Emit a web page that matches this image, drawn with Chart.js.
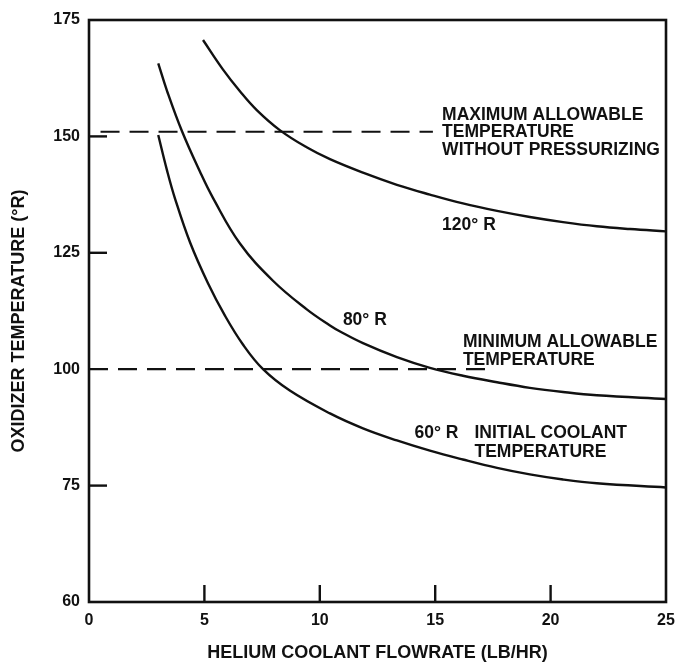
<!DOCTYPE html>
<html>
<head>
<meta charset="utf-8">
<script src="https://cdn.jsdelivr.net/npm/chart.js@4/dist/chart.umd.min.js"></script>
<style>
  html, body { margin: 0; padding: 0; background: #fff; }
  #wrap { width: 678px; height: 665px; }
</style>
</head>
<body>
<div id="wrap"><canvas id="c" width="678" height="665"></canvas></div>
<script>
// Helium coolant flowrate (lb/hr) vs oxidizer temperature (°R), per initial coolant temperature
const flow120 = [4.94, 5.8, 6.54, 7.28, 8.28, 9.45, 10.44, 11.87, 13.34, 14.77, 16.2, 17.68, 19.1, 20.54, 22, 23.44, 25];
const temp120 = [170.7, 164.4, 159.7, 155.6, 151.3, 147.6, 145.1, 142.2, 139.6, 137.5, 135.6, 134.0, 132.7, 131.6, 130.7, 130.1, 129.6];

const flow80 = [3, 3.38, 4.03, 4.81, 5.37, 6.54, 7.97, 9.45, 10.44, 10.88, 11.87, 13.34, 14.77, 16.2, 17.68, 19.1, 20.54, 22, 25];
const temp80 = [165.7, 159.8, 151.1, 142.4, 136.8, 127.0, 119.0, 112.8, 109.4, 108.1, 105.6, 102.6, 100.3, 98.6, 97.2, 96.0, 95.1, 94.4, 93.6];

const flow60 = [3, 3.38, 3.73, 4.38, 5.16, 5.89, 6.67, 7.54, 8.7, 10.44, 11.87, 13.34, 14.77, 16.2, 17.68, 19.1, 20.54, 22, 25];
const temp60 = [150.3, 142.7, 136.6, 127.2, 118.4, 111.5, 105.3, 100.0, 95.4, 90.5, 87.3, 84.7, 82.5, 80.6, 78.8, 77.4, 76.3, 75.5, 74.6];

// allowable temperature limits (dashed lines)
const maxAllowFlow = [0.5, 14.9];
const maxAllowTemp = [151, 151];
const minAllowFlow = [0, 17.4];
const minAllowTemp = [100, 100];

// axis ticks
const xTickValues = [0, 5, 10, 15, 20, 25];
const yTickValues = [50, 75, 100, 125, 150, 175];
const yTickLabels = ['60', '75', '100', '125', '150', '175'];
const xInnerTicks = [5, 10, 15, 20];
const yInnerTicks = [75, 125, 150];
const yAxisTitle = 'OXIDIZER TEMPERATURE (°R)';

const INK = '#111111';
const FONT = '"Liberation Sans", Arial, Helvetica, sans-serif';

const pts = (xs, ys) => xs.map((x, i) => ({ x: x, y: ys[i] }));

function curve(xs, ys) {
  return {
    data: pts(xs, ys),
    borderColor: INK,
    borderWidth: 2.4,
    pointRadius: 0,
    tension: 0.4,
    fill: false
  };
}
function dashed(xs, ys) {
  return {
    data: pts(xs, ys),
    borderColor: INK,
    borderWidth: 2.2,
    borderDash: [19, 10],
    pointRadius: 0,
    tension: 0,
    fill: false
  };
}

// text notes placed in data units
const notes = [
  { x: 15.3, y: 154.6, text: 'MAXIMUM ALLOWABLE' },
  { x: 15.3, y: 150.9, text: 'TEMPERATURE' },
  { x: 15.3, y: 147.0, text: 'WITHOUT PRESSURIZING' },
  { x: 15.3, y: 130.9, text: '120° R' },
  { x: 11.0, y: 110.5, text: '80° R' },
  { x: 16.2, y: 105.8, text: 'MINIMUM ALLOWABLE' },
  { x: 16.2, y: 101.9, text: 'TEMPERATURE' },
  { x: 14.1, y: 86.2, text: '60° R' },
  { x: 16.7, y: 86.2, text: 'INITIAL COOLANT' },
  { x: 16.7, y: 82.1, text: 'TEMPERATURE' }
];

const framePlugin = {
  id: 'frame',
  afterDatasetsDraw(chart) {
    const { ctx, chartArea: a, scales: { x, y } } = chart;
    ctx.save();
    ctx.strokeStyle = INK;
    ctx.lineWidth = 2.6;
    ctx.strokeRect(a.left, a.top, a.right - a.left, a.bottom - a.top);
    // inward tick marks
    ctx.lineWidth = 2.4;
    xInnerTicks.forEach(v => {
      const px = x.getPixelForValue(v);
      ctx.beginPath();
      ctx.moveTo(px, a.bottom);
      ctx.lineTo(px, a.bottom - 17);
      ctx.stroke();
    });
    yInnerTicks.forEach(v => {
      const py = y.getPixelForValue(v);
      ctx.beginPath();
      ctx.moveTo(a.left, py);
      ctx.lineTo(a.left + 18, py);
      ctx.stroke();
    });
    // notes
    ctx.fillStyle = INK;
    ctx.font = 'bold 17.5px ' + FONT;
    ctx.textAlign = 'left';
    ctx.textBaseline = 'middle';
    notes.forEach(n => {
      ctx.fillText(n.text, x.getPixelForValue(n.x), y.getPixelForValue(n.y));
    });
    // vertical axis title, centred a little below the plot middle
    ctx.font = 'bold 18px ' + FONT;
    ctx.textAlign = 'center';
    ctx.translate(19, (a.top + a.bottom) / 2 + 10);
    ctx.rotate(-Math.PI / 2);
    ctx.fillText(yAxisTitle, 0, 0);
    ctx.restore();
  }
};

new Chart(document.getElementById('c'), {
  type: 'line',
  data: {
    datasets: [
      curve(flow120, temp120),
      curve(flow80, temp80),
      curve(flow60, temp60),
      dashed(maxAllowFlow, maxAllowTemp),
      dashed(minAllowFlow, minAllowTemp)
    ]
  },
  options: {
    responsive: false,
    animation: false,
    events: [],
    layout: { padding: { top: 20, right: 12, left: 0, bottom: 0 } },
    plugins: { legend: { display: false }, tooltip: { enabled: false } },
    scales: {
      x: {
        type: 'linear',
        min: 0,
        max: 25,
        afterBuildTicks(scale) { scale.ticks = xTickValues.map(v => ({ value: v })); },
        afterFit(scale) {
          scale.height = 63;
          scale.paddingLeft = 0;
          scale.paddingRight = 9;
        },
        grid: { display: false, drawTicks: false },
        border: { display: false },
        ticks: {
          color: INK,
          padding: 9,
          font: { family: FONT, size: 16, weight: 'bold' },
          maxRotation: 0
        },
        title: {
          display: true,
          text: 'HELIUM COOLANT FLOWRATE (LB/HR)',
          color: INK,
          font: { family: FONT, size: 18, weight: 'bold' },
          padding: { top: 0, bottom: 1 }
        }
      },
      y: {
        type: 'linear',
        min: 50,
        max: 175,
        afterBuildTicks(scale) { scale.ticks = yTickValues.map(v => ({ value: v })); },
        afterFit(scale) { scale.width = 89; },
        grid: { display: false, drawTicks: false },
        border: { display: false },
        ticks: {
          color: INK,
          padding: 9,
          font: { family: FONT, size: 16, weight: 'bold' },
          callback(value) {
            const i = yTickValues.indexOf(value);
            return i >= 0 ? yTickLabels[i] : '';
          }
        },
        title: { display: false }
      }
    }
  },
  plugins: [framePlugin]
});
</script>
</body>
</html>
